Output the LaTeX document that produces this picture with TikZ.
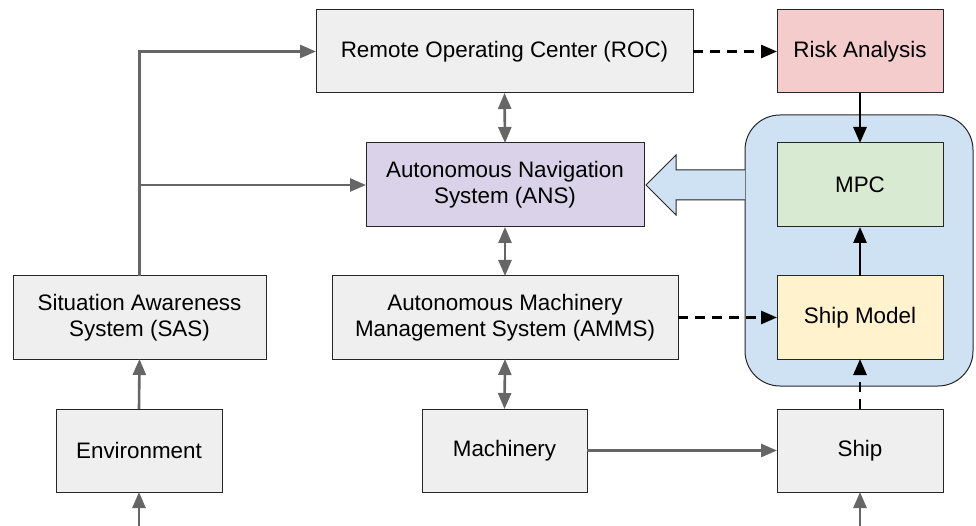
\documentclass[tikz,border=0pt]{standalone}
\usepackage{fontspec}
\setmainfont{Liberation Sans}
\usetikzlibrary{arrows.meta}
\definecolor{boxgray}{HTML}{EFEFEF}
\definecolor{linegray}{HTML}{666666}
\definecolor{pinkfill}{HTML}{F4CCCC}
\definecolor{greenfill}{HTML}{D9EAD3}
\definecolor{yellowfill}{HTML}{FFF2CC}
\definecolor{purplefill}{HTML}{D9D2E9}
\definecolor{bluefill}{HTML}{CFE2F3}
\tikzset{
  blk/.style={draw=black!85, line width=1pt, fill=boxgray, inner sep=0pt, outer sep=0pt,
    align=center, font=\fontsize{22.4}{25.8}\selectfont, minimum height=83pt},
  tip/.style={Triangle[length=16pt,width=13pt]},
  garrow/.style={draw=linegray, line width=2.6pt, -{Triangle[length=16pt,width=13pt]}},
  gdouble/.style={draw=linegray, line width=2.6pt, {Triangle[length=16pt,width=13pt]}-{Triangle[length=16pt,width=13pt]}},
  barrow/.style={draw=black, line width=2.8pt, -{Triangle[length=16pt,width=13pt]}},
  bdashed/.style={barrow, dash pattern=on 10pt off 7pt},
}
\begin{document}
\begin{tikzpicture}[x=1pt,y=-1pt]
\useasboundingbox (0,0) rectangle (976,526);
% container
\draw[fill=bluefill, draw=black!85, line width=1pt, rounded corners=35pt] (745,115) rectangle (973,386);
% block arrow
\fill[bluefill] (745,170) -- (676,170) -- (676,155) -- (646,185) -- (676,215) -- (676,200) -- (745,200) -- cycle;
\draw[draw=black!85, line width=1pt, line join=miter] (745,170) -- (676,170) -- (676,155) -- (646,185) -- (676,215) -- (676,200) -- (745,200);
% nodes
\node[blk, minimum width=377pt] (roc) at (504.5,51.5) {Remote Operating Center (ROC)};
\node[blk, minimum width=166pt, fill=pinkfill] (risk) at (860,51.5) {Risk Analysis};
\node[blk, minimum width=278pt, minimum height=84pt, fill=purplefill] (ans) at (505,185) {Autonomous Navigation\\System (ANS)};
\node[blk, minimum width=166pt, minimum height=84pt, fill=greenfill] (mpc) at (860,185) {MPC};
\node[blk, minimum width=253pt] (sas) at (139.5,317.5) {Situation Awareness\\System (SAS)};
\node[blk, minimum width=346pt] (amms) at (505,317.5) {Autonomous Machinery\\Management System (AMMS)};
\node[blk, minimum width=166pt, fill=yellowfill] (shipmodel) at (860,317.5) {Ship Model};
\node[blk, minimum width=166pt] (env) at (139,450.5) {Environment};
\node[blk, minimum width=165pt] (mach) at (504.5,450.5) {Machinery};
\node[blk, minimum width=166pt] (ship) at (860,450.5) {Ship};
% free ends
\coordinate (envin) at (139,526);
\coordinate (shipin) at (860,526);
\coordinate (branch) at (sas.north |- ans.west);
% connectors
\draw[garrow] (envin) -- (env.south);
\draw[garrow] (shipin) -- (ship.south);
\draw[garrow] (env.north) -- (sas.south);
\draw[garrow] (sas.north) |- (roc.west);
\draw[garrow] (branch) -- (ans.west);
\draw[gdouble] (roc.south) -- (ans.north);
\draw[gdouble] (ans.south) -- (amms.north);
\draw[gdouble] (amms.south) -- (mach.north);
\draw[garrow] (mach.east) -- (ship.west);
\draw[bdashed] (roc.east) -- (risk.west);
\draw[bdashed] (amms.east) -- (shipmodel.west);
\draw[barrow] (risk.south) -- (mpc.north);
\draw[barrow] (shipmodel.north) -- (mpc.south);
\draw[bdashed] (ship.north) -- (shipmodel.south);
\end{tikzpicture}
\end{document}
